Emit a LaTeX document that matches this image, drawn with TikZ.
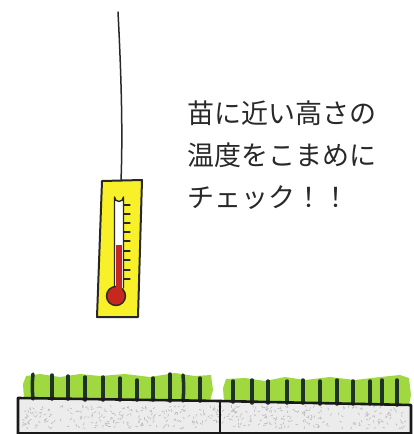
\documentclass[tikz,border=0pt]{standalone}
\usepackage{fontspec}
\newfontfamily\jpfont{Noto Sans CJK JP}
\definecolor{ink}{RGB}{40,40,40}
\definecolor{cardyellow}{RGB}{248,240,40}
\definecolor{mercury}{RGB}{196,40,30}
\definecolor{grassgreen}{RGB}{160,216,64}
\definecolor{bladegreen}{RGB}{30,50,40}
\definecolor{soil}{RGB}{236,236,236}
\begin{document}
\begin{tikzpicture}[x=1pt,y=-1pt,
  line join=round, line cap=round,
  caption/.style={font=\jpfont\fontsize{27}{31}\selectfont, text=ink, inner sep=0pt, anchor=base west},
  string/.style={draw=ink, line width=1.5pt},
  cardline/.style={draw=ink, line width=2pt, fill=cardyellow},
  tubeline/.style={draw=ink, line width=1.4pt},
  tick/.style={draw=ink, line width=1.1pt},
  blade/.style={draw=bladegreen, line width=3.5pt},
  trayline/.style={draw=black!90, line width=2.6pt},
  speck/.style={draw=gray!55, line width=0.6pt}]
\useasboundingbox (0,0) rectangle (414,434);

% caption
\node[caption] (l1) at (187,123) {苗に近い高さの};
\node[caption] (l2) at (187,165) {温度をこまめに};
\node[caption] (l3) at (187,207) {チェック！！};

% hanging string
\coordinate (hook) at (118,12);
\coordinate (cardtop) at (121,181);
\draw[string] (hook) .. controls (121,70) and (123,130) .. (cardtop);

% thermometer card
\draw[cardline] (102,181) -- (142,180) -- (138,317) -- (97,317) -- cycle;

% glass tube and scale
\draw[tubeline, fill=white] (114.5,288) -- (114.5,197) arc[start angle=180, end angle=0, radius=4.5] -- (123.5,288);
\fill[mercury] (116,245) rectangle (122,292);
\foreach \ty in {205,214,223,232,241,251,260,270,279}
  \draw[tick] (123.5,\ty) -- (130,\ty);
\draw[tubeline, fill=mercury] (116,296) circle[radius=9.5pt];
\fill[mercury] (116.4,284) rectangle (121.6,292);

% seedling trays: soil
\fill[soil] (18,398) -- (220,401) -- (220,434) -- (18,434) -- cycle;
\fill[soil] (220,401) -- (411,405) -- (411,434) -- (220,434) -- cycle;
\pgfmathsetseed{11}
\foreach \i in {1,...,420} {
  \pgfmathsetmacro\sx{22+rnd*385}
  \pgfmathsetmacro\sy{407+rnd*22}
  \pgfmathsetmacro\sa{rnd*180}
  \draw[speck] (\sx,\sy) -- ++(\sa:2.2pt);
}

% grass
\fill[grassgreen] (24,399) -- (23,384) -- (26,376) -- (40,374) -- (60,377) -- (80,374)
  -- (100,376) -- (125,374) -- (150,377) -- (175,373) -- (195,376) -- (211,375)
  -- (213,390) -- (210,401) -- cycle;
\fill[grassgreen] (224,402) -- (223,388) -- (226,379) -- (245,378) -- (265,381) -- (285,377)
  -- (305,380) -- (330,377) -- (355,380) -- (380,377) -- (400,375) -- (409,378)
  -- (411,395) -- (409,405) -- cycle;
\foreach \bx/\bt/\bb/\bd in {33/374/399/-1, 52/375/399/0.5, 68/376/399/-0.5, 85/377/400/0.5,
  103/377/400/-0.5, 120/378/400/0.8, 137/380/400/-0.8, 153/378/400/0.5, 170/374/401/-0.5,
  183/375/401/1, 200/378/401/-0.5,
  233/381/402/-0.5, 252/380/403/0.5, 268/381/403/-0.8, 287/381/403/0.8, 303/380/403/-0.5,
  320/381/404/0.8, 337/380/404/-0.5, 353/381/404/0.5, 370/381/404/-0.8, 382/380/404/0.8,
  397/380/405/-0.5}
  \draw[blade] (\bx,\bt) .. controls ({\bx+\bd},{(\bt+\bb)/2}) .. (\bx,\bb);

% trays: outline
\draw[trayline] (18,434) -- (18,398) -- (220,401) -- (411,405) -- (411,434);
\draw[trayline] (220,401) -- (220,434);
\draw[trayline] (18,433) -- (411,433);
\end{tikzpicture}
\end{document}
